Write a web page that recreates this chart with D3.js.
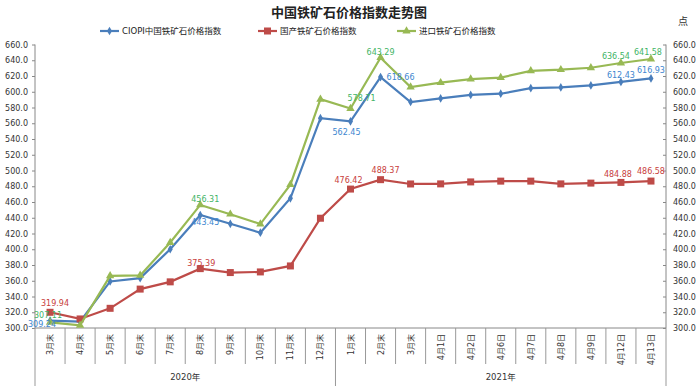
<!DOCTYPE html>
<html><head><meta charset="utf-8">
<script src="https://cdn.jsdelivr.net/npm/d3@7"></script>
<style>
html,body{margin:0;padding:0;background:#fff;}
svg{display:block;}
text{font-family:"DejaVu Sans","Noto Sans CJK SC",sans-serif;}
</style></head>
<body>
<svg id="chart" width="697" height="389"></svg>
<script>
const categories = ["3月末","4月末","5月末","6月末","7月末","8月末","9月末","10月末","11月末","12月末","1月末","2月末","3月末","4月1日","4月2日","4月6日","4月7日","4月8日","4月9日","4月12日","4月13日"];
const yearLabels = ["2020年","2021年"];
const yearSpans = [10, 11];
const seriesNames = ["CIOPI中国铁矿石价格指数","国产铁矿石价格指数","进口铁矿石价格指数"];
const ciopi    = [309.24,308.0,359.1,363.3,400.0,443.45,432.3,421.0,464.7,566.5,562.45,618.66,587.0,591.5,596.0,597.5,604.5,605.5,608.0,612.43,616.93];
const domestic = [319.94,311.5,325.0,349.4,358.6,375.39,370.4,371.2,378.8,439.4,476.42,488.37,482.9,483.0,485.5,486.5,486.5,483.0,484.0,484.88,486.58];
const imported = [307.11,303.5,366.2,366.8,408.5,456.31,444.5,432.0,482.0,590.5,578.71,643.29,606.0,611.5,616.0,618.0,626.5,628.0,630.5,636.54,641.58];
const yTicks = [300,320,340,360,380,400,420,440,460,480,500,520,540,560,580,600,620,640,660];
const ciopiLabelIdx = [0,5,10,11,19,20];
const domesticLabelIdx = [0,5,10,11,19,20];
const importedLabelIdx = [0,5,10,11,19,20];

const svg = d3.select("#chart");
const L = 35, R = 666, T = 44.5, B = 328;
const x = d3.scaleBand().domain(d3.range(categories.length)).range([L, R]).padding(0);
const cx = i => x(i) + x.bandwidth()/2;
const y = d3.scaleLinear().domain([300,660]).range([B, T]);

// title
svg.append("text").attr("x",349).attr("y",17).attr("text-anchor","middle")
  .style("font-family","'Noto Sans CJK SC',sans-serif").style("font-weight","bold").style("font-size","13px")
  .attr("fill","#222").text("中国铁矿石价格指数走势图");
svg.append("text").attr("x",683).attr("y",25).attr("text-anchor","middle")
  .style("font-family","'Noto Sans CJK SC',sans-serif").style("font-size","10px").attr("fill","#333").text("点");

// axes
const axL = svg.append("g").attr("transform",`translate(${L},0)`)
  .call(d3.axisLeft(y).tickValues(yTicks).tickFormat(d3.format(".1f")).tickSize(3).tickPadding(4));
const axR = svg.append("g").attr("transform",`translate(${R},0)`)
  .call(d3.axisRight(y).tickValues(yTicks).tickFormat(d3.format(".1f")).tickSize(3).tickPadding(4));
[axL, axR].forEach(a => {
  a.select(".domain").attr("stroke","#888").attr("d", `M0,${T}V${B}`);
  a.selectAll(".tick line").attr("stroke","#888");
  a.selectAll("text").style("font-size","8px").attr("fill","#333");
});
axR.selectAll(".tick line").attr("x1",-3).attr("x2",0);
axR.selectAll("text").attr("x",7);
axL.selectAll("text").attr("x",-7);

// bottom axis line
svg.append("line").attr("x1",L).attr("x2",R).attr("y1",B).attr("y2",B).attr("stroke","#888");
// category separators
const g = svg.append("g");
d3.range(categories.length+1).forEach(i => {
  const xx = i < categories.length ? x(i) : R;
  const isYear = (i === 0 || i === yearSpans[0] || i === categories.length);
  g.append("line").attr("x1",xx).attr("x2",xx).attr("y1",B).attr("y2", isYear ? 386 : 364).attr("stroke","#999");
});
categories.forEach((c,i) => {
  g.append("text").attr("transform",`translate(${cx(i)+3},${B+6}) rotate(-90)`)
    .attr("text-anchor","end").style("font-size","8px").attr("fill","#333").text(c);
});
let start = 0;
yearLabels.forEach((lab,k) => {
  const x0 = x(start), x1 = (start + yearSpans[k] < categories.length) ? x(start + yearSpans[k]) : R;
  g.append("text").attr("x",(x0+x1)/2).attr("y",380).attr("text-anchor","middle")
    .style("font-size","8.5px").attr("fill","#333").text(lab);
  start += yearSpans[k];
});

const colors = ["#4a7ebb","#be4b48","#98b954"];
const labelColors = ["#3d86cf","#c8403c","#3fb466"];
const allSeries = [ciopi, domestic, imported];
const line = d3.line().x((d,i)=>cx(i)).y(d=>y(d));

function marker(sel, k) {
  if (k === 0) sel.append("path").attr("d", d3.symbol().type(d3.symbolDiamond).size(22)).attr("fill",colors[0]);
  else if (k === 1) sel.append("rect").attr("x",-3.5).attr("y",-3.5).attr("width",7).attr("height",7).attr("fill",colors[1]);
  else sel.append("path").attr("d", d3.symbol().type(d3.symbolTriangle).size(30)).attr("fill",colors[2]);
}

allSeries.forEach((data,k) => {
  svg.append("path").datum(data).attr("d",line).attr("fill","none").attr("stroke",colors[k]).attr("stroke-width",2.2);
  data.forEach((v,i) => {
    const m = svg.append("g").attr("transform",`translate(${cx(i)},${y(v)})`);
    marker(m,k);
  });
});

// data labels
const placements = [
  {0:[-8,6],5:[5,10],10:[-4,14],11:[20,3],19:[0,-4],20:[0,-5]},
  {0:[5,-6],5:[1,-3],10:[-2,-6],11:[5,-7],19:[-3,-5],20:[0,-7]},
  {0:[-2,-4],5:[5,-3],10:[11,-8],11:[0,-3],19:[-5,-4],20:[-3,-4]}
];
[ciopiLabelIdx, domesticLabelIdx, importedLabelIdx].forEach((idx,k) => {
  idx.forEach(i => {
    const p = placements[k][i];
    svg.append("text").attr("x",cx(i)+p[0]).attr("y",y(allSeries[k][i])+p[1])
      .attr("text-anchor","middle").style("font-size","8px").attr("fill",labelColors[k])
      .text(d3.format(".2f")(allSeries[k][i]));
  });
});

// legend
const legX = [100, 258, 397];
seriesNames.forEach((n,k) => {
  const lg = svg.append("g").attr("transform",`translate(${legX[k]},31)`);
  lg.append("line").attr("x1",0).attr("x2",19).attr("stroke",colors[k]).attr("stroke-width",2.2);
  const m = lg.append("g").attr("transform","translate(9.5,0)");
  marker(m,k);
  lg.append("text").attr("x",22).attr("y",3).style("font-size","8.5px").attr("fill","#222").text(n);
});
</script>
</body></html>
